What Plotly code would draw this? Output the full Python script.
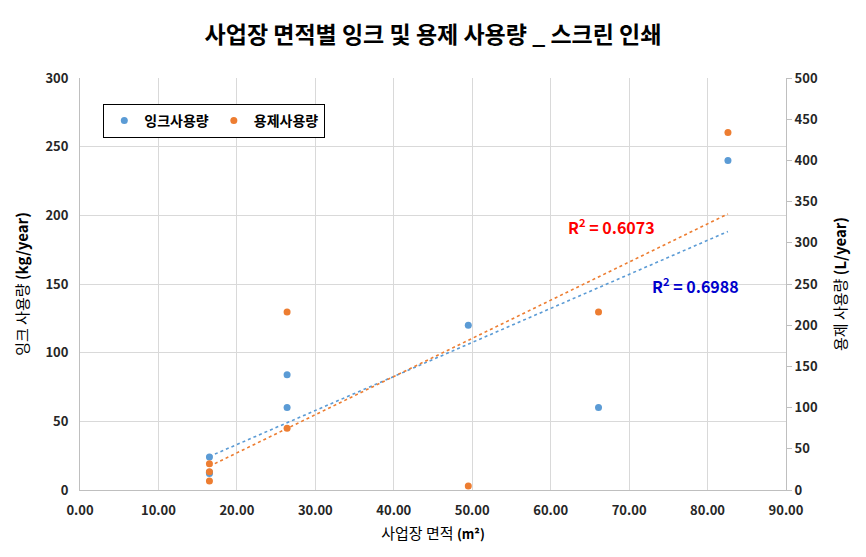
import numpy as np
import plotly.graph_objects as go

# Data
area = [16.5, 16.5, 16.5, 26.4, 26.4, 49.5, 66.1, 82.6]
ink_use = [24, 13, 12, 84, 60, 120, 60, 240]
solvent_use = [32, 22, 11, 216, 75, 5, 216, 434]
ink_name = "잉크사용량"
solvent_name = "용제사용량"
r2_ink_text = "R<sup>2</sup> = 0.6988"
r2_solvent_text = "R<sup>2</sup> = 0.6073"

BLUE = "#5B9BD5"
ORANGE = "#ED7D31"
FONT = "Noto Sans CJK KR"
GRID = "#D9D9D9"
AX = "#BFBFBF"
TICKC = "#262626"

x = np.array(area, dtype=float)
xs = np.array([x.min(), x.max()])
p_ink = np.polyfit(x, np.array(ink_use, float), 1)
p_sol = np.polyfit(x, np.array(solvent_use, float), 1)

fig = go.Figure()
fig.add_trace(go.Scatter(x=xs, y=np.polyval(p_ink, xs), mode="lines",
                         line=dict(color=BLUE, width=1.6, dash="dot"),
                         showlegend=False, hoverinfo="skip", yaxis="y"))
fig.add_trace(go.Scatter(x=xs, y=np.polyval(p_sol, xs), mode="lines",
                         line=dict(color=ORANGE, width=1.6, dash="dot"),
                         showlegend=False, hoverinfo="skip", yaxis="y2"))
fig.add_trace(go.Scatter(x=area, y=ink_use, mode="markers", name=ink_name,
                         marker=dict(color=BLUE, size=7), yaxis="y"))
fig.add_trace(go.Scatter(x=area, y=solvent_use, mode="markers", name=solvent_name,
                         marker=dict(color=ORANGE, size=7), yaxis="y2"))

tickfont = dict(family=FONT, size=13, color=TICKC, weight="bold")
titlefont = dict(family=FONT, size=15, color="black")

fig.update_layout(
    width=866, height=557,
    margin=dict(l=80, r=80, t=78, b=67),
    paper_bgcolor="white", plot_bgcolor="white",
    font=dict(family=FONT, color="black"),
    title=dict(text="<b>사업장 면적별 잉크 및 용제 사용량 _ 스크린 인쇄</b>",
               x=0.5, xanchor="center", y=1 - 35 / 557, yanchor="middle",
               yref="container",
               font=dict(family=FONT, size=23, color="black")),
    xaxis=dict(range=[0, 90], dtick=10, tickformat=".2f",
               showgrid=True, gridcolor=GRID, gridwidth=1,
               showline=True, linecolor=AX, linewidth=1,
               zeroline=False, ticks="", tickfont=tickfont,
               ticklabelstandoff=8,
               title=dict(text="사업장 면적 <b><span style='font-size:13px'>(m²)</span></b>",
                          standoff=10, font=titlefont)),
    yaxis=dict(range=[0, 300], dtick=50,
               showgrid=True, gridcolor=GRID, gridwidth=1,
               showline=True, linecolor=AX, linewidth=1,
               zeroline=False, ticks="", tickfont=tickfont,
               ticklabelstandoff=8,
               title=dict(text="잉크 사용량 <b>(kg/year)</b>", standoff=13,
                          font=titlefont)),
    yaxis2=dict(range=[0, 500], dtick=50, overlaying="y", side="right",
                showgrid=False, showline=True, linecolor=AX, linewidth=1,
                zeroline=False, ticks="outside", ticklen=5, tickcolor=AX,
                tickfont=tickfont,
                title=dict(text="용제 사용량 <b>(L/year)</b>", standoff=18,
                           font=titlefont)),
    legend=dict(x=0.033, y=0.937, xanchor="left", yanchor="top",
                orientation="h", bgcolor="white",
                bordercolor="black", borderwidth=1,
                font=dict(family=FONT, size=14, color="black", weight="bold"),
                itemwidth=30, tracegroupgap=0),
    annotations=[
        dict(x=67.7, y=191.7, xref="x", yref="y", text="<b>" + r2_solvent_text + "</b>",
             showarrow=False, font=dict(family=FONT, size=16, color="#FF0000")),
        dict(x=78.4, y=148.7, xref="x", yref="y", text="<b>" + r2_ink_text + "</b>",
             showarrow=False, font=dict(family=FONT, size=16, color="#0000CC")),
    ],
)

fig.write_html("out.html")
